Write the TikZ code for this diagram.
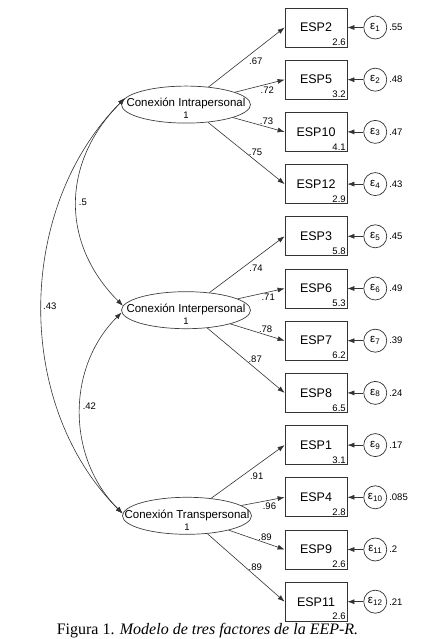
\documentclass[tikz,border=0pt]{standalone}
\usepackage{fontspec}
\setmainfont{Liberation Sans}
\newfontfamily\capfont{Liberation Serif}
\usetikzlibrary{shapes,arrows.meta,positioning}

\begin{document}
\begin{tikzpicture}[x=1pt, y=1pt,
				latent/.style={
				% The shape:
				ellipse,
				% The size:
				minimum width=129pt, minimum height=37pt, inner sep=0pt,
				% The border:
				draw=black!75, line width=0.7pt
				},
				latname/.style={
				align=center, yshift=-4pt,
				font=\fontsize{11.5}{12}\selectfont
				},
				item/.style={
				% The shape:
				rectangle,
				% The size:
				minimum width=62pt, minimum height=39pt,
				% The border:
				draw=black!80, line width=0.8pt,
				% Font
				font=\fontsize{12.5}{14}\selectfont
				},
				icpt/.style={
				anchor=south east, inner sep=1.5pt,
				font=\fontsize{9.5}{10}\selectfont
				},
				err/.style={
				% The shape:
				circle,
				% The size:
				minimum size=23pt, inner sep=0pt,
				% The border:
				draw=black!80, line width=0.7pt,
				font=\fontsize{11.5}{12}\selectfont
				},
				coef/.style={font=\fontsize{9.5}{10}\selectfont, inner sep=2pt},
				load/.style={-{Latex[length=7pt,width=5pt]}, draw=black!80, line width=0.6pt},
				cov/.style={{Latex[length=7pt,width=5pt]}-{Latex[length=7pt,width=5pt]}, draw=black!80, line width=0.6pt},
				]
    \useasboundingbox (0,0) rectangle (437,639);
    \tikzstyle{every label} = [coef]

    % latent factors
    \node [latent, label={[latname]center:Conexión Intrapersonal\\{\fontsize{9.5}{10}\selectfont 1}}] (intra) at (186,534.4) {};
    \node [latent, label={[latname]center:Conexión Interpersonal\\{\fontsize{9.5}{10}\selectfont 1}}] (inter) at (186,328.8) {};
    \node [latent, label={[latname]center:Conexión Transpersonal\\{\fontsize{9.5}{10}\selectfont 1}}] (trans) at (187,123.2) {};

    % observed items
    \node [item, label={[icpt]south east:2.6}] (esp2) at (316,611.5) {ESP2};
    \node [item, label={[icpt]south east:3.2}, below=12.4pt of esp2] (esp5) {ESP5};
    \node [item, label={[icpt]south east:4.1}, below=12.4pt of esp5] (esp10) {ESP10};
    \node [item, label={[icpt]south east:2.9}, below=12.4pt of esp10] (esp12) {ESP12};
    \node [item, label={[icpt]south east:5.8}, below=12.4pt of esp12] (esp3) {ESP3};
    \node [item, label={[icpt]south east:5.3}, below=12.4pt of esp3] (esp6) {ESP6};
    \node [item, label={[icpt]south east:6.2}, below=12.4pt of esp6] (esp7) {ESP7};
    \node [item, label={[icpt]south east:6.5}, below=12.4pt of esp7] (esp8) {ESP8};
    \node [item, label={[icpt]south east:3.1}, below=12.4pt of esp8] (esp1) {ESP1};
    \node [item, label={[icpt]south east:2.8}, below=12.4pt of esp1] (esp4) {ESP4};
    \node [item, label={[icpt]south east:2.6}, below=12.4pt of esp4] (esp9) {ESP9};
    \node [item, label={[icpt]south east:2.6}, below=12.4pt of esp9] (esp11) {ESP11};

    % errors
    \node [err, right=16pt of esp2, label=right:.55] (e1) {ε\textsubscript{1}};
    \node [err, right=16pt of esp5, label=right:.48] (e2) {ε\textsubscript{2}};
    \node [err, right=16pt of esp10, label=right:.47] (e3) {ε\textsubscript{3}};
    \node [err, right=16pt of esp12, label=right:.43] (e4) {ε\textsubscript{4}};
    \node [err, right=16pt of esp3, label=right:.45] (e5) {ε\textsubscript{5}};
    \node [err, right=16pt of esp6, label=right:.49] (e6) {ε\textsubscript{6}};
    \node [err, right=16pt of esp7, label=right:.39] (e7) {ε\textsubscript{7}};
    \node [err, right=16pt of esp8, label=right:.24] (e8) {ε\textsubscript{8}};
    \node [err, right=16pt of esp1, label=right:.17] (e9) {ε\textsubscript{9}};
    \node [err, right=16pt of esp4, label=right:.085] (e10) {ε\textsubscript{10}};
    \node [err, right=16pt of esp9, label=right:.2] (e11) {ε\textsubscript{11}};
    \node [err, right=16pt of esp11, label=right:.21] (e12) {ε\textsubscript{12}};

    % loadings
    \draw [load] (intra) -- (esp2.west) node [coef, pos=.62, below=5pt] {.67};
    \draw [load] (intra) -- (esp5.west) node [coef, pos=.65, below] {.72};
    \draw [load] (intra) -- (esp10.west) node [coef, pos=.65, above] {.73};
    \draw [load] (intra) -- (esp12.west) node [coef, pos=.62, above=3pt] {.75};
    \draw [load] (inter) -- (esp3.west) node [coef, pos=.62, below=5pt] {.74};
    \draw [load] (inter) -- (esp6.west) node [coef, pos=.65, below] {.71};
    \draw [load] (inter) -- (esp7.west) node [coef, pos=.65, above] {.78};
    \draw [load] (inter) -- (esp8.west) node [coef, pos=.62, above=3pt] {.87};
    \draw [load] (trans) -- (esp1.west) node [coef, pos=.62, below=5pt] {.91};
    \draw [load] (trans) -- (esp4.west) node [coef, pos=.65, below] {.96};
    \draw [load] (trans) -- (esp9.west) node [coef, pos=.65, above] {.89};
    \draw [load] (trans) -- (esp11.west) node [coef, pos=.62, above=3pt] {.89};

    % error paths
    \draw [load] (e1) -- (esp2);
    \draw [load] (e2) -- (esp5);
    \draw [load] (e3) -- (esp10);
    \draw [load] (e4) -- (esp12);
    \draw [load] (e5) -- (esp3);
    \draw [load] (e6) -- (esp6);
    \draw [load] (e7) -- (esp7);
    \draw [load] (e8) -- (esp8);
    \draw [load] (e9) -- (esp1);
    \draw [load] (e10) -- (esp4);
    \draw [load] (e11) -- (esp9);
    \draw [load] (e12) -- (esp11);

    % covariances
    \draw [cov] (intra.174) to [out=225, in=135, looseness=1.1] node [coef, right] {.5} (inter.176);
    \draw [cov] (inter.182) to [out=225, in=135, looseness=1.0] node [coef, right, pos=.47] {.42} (trans.178);
    \draw [cov] (intra.174) to [out=225, in=135, looseness=0.95] node [coef, right, inner sep=1pt] {.43} (trans.178);

    % caption
    \node [font=\capfont\fontsize{16}{18}\selectfont] (caption) at (207.5,8.5) {Figura 1. \textit{Modelo de tres factores de la EEP-R.}};
\end{tikzpicture}
\end{document}
